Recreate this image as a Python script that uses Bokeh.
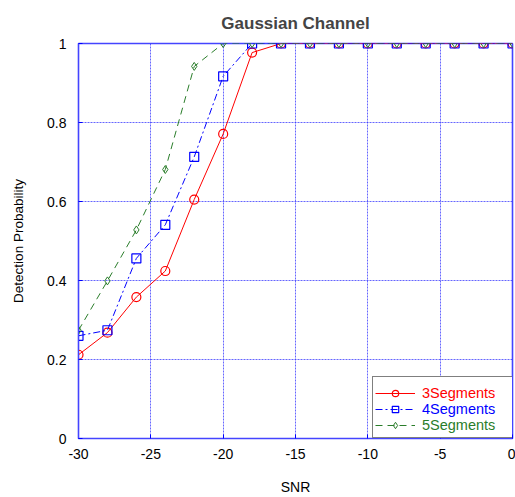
from bokeh.plotting import figure
from bokeh.models import Legend, LegendItem, FixedTicker, Range1d
from bokeh.embed import file_html
from bokeh.resources import INLINE

snr = [-30, -28, -26, -24, -22, -20, -18, -16, -14, -12, -10, -8, -6, -4, -2, 0]
seg3 = [0.212, 0.268, 0.358, 0.424, 0.605, 0.771, 0.977, 1, 1, 1, 1, 1, 1, 1, 1, 1]
seg4 = [0.260, 0.274, 0.456, 0.541, 0.713, 0.917, 1, 1, 1, 1, 1, 1, 1, 1, 1, 1]
seg5 = [0.274, 0.399, 0.528, 0.681, 0.942, 1, 1, 1, 1, 1, 1, 1, 1, 1, 1, 1]
x_ticks = [-30, -25, -20, -15, -10, -5, 0]
x_labels = ["-30", "-25", "-20", "-15", "-10", "-5", "0"]
y_ticks = [0, 0.2, 0.4, 0.6, 0.8, 1]
y_labels = ["0", "0.2", "0.4", "0.6", "0.8", "1"]
names = ["3Segments", "4Segments", "5Segments"]

FONT = "Liberation Sans"
RED = "#ff0000"
BLUE = "#0000ff"
GREEN = "#2a7d2a"

p = figure(width=515, height=497, output_backend="svg", toolbar_location=None,
           x_range=Range1d(-30, 0), y_range=Range1d(0, 1),
           min_border_left=78, min_border_right=3, min_border_top=42, min_border_bottom=59,
           title="Gaussian Channel")
p.title.align = "center"
p.title.text_font = FONT
p.title.text_font_size = "17px"
p.title.text_font_style = "bold"
p.title.standoff = 22

p.outline_line_color = "#4444ff"
p.outline_line_width = 1.6
p.background_fill_color = "white"
p.border_fill_color = "white"

for ax in (p.xaxis[0], p.yaxis[0]):
    ax.axis_line_color = "#4444ff"
    ax.major_tick_line_color = BLUE
    ax.major_tick_in = 4
    ax.major_tick_out = 0
    ax.minor_tick_line_color = None
    ax.major_label_text_font = FONT
    ax.major_label_text_font_size = "14px"
    ax.major_label_text_color = "black"
    ax.axis_label_text_font = FONT
    ax.axis_label_text_font_style = "normal"
    ax.axis_label_text_color = "black"

p.xaxis.axis_label_text_font_size = "14px"
p.yaxis.axis_label_text_font_size = "13.5px"
p.xaxis.ticker = FixedTicker(ticks=x_ticks)
p.yaxis.ticker = FixedTicker(ticks=y_ticks)
p.xaxis.major_label_overrides = {t: l for t, l in zip(x_ticks, x_labels)}
p.yaxis.major_label_overrides = {t: l for t, l in zip(y_ticks, y_labels)}
p.xaxis.axis_label = "SNR"
p.yaxis.axis_label = "Detection Probability"
p.xaxis.major_label_standoff = 10
p.yaxis.major_label_standoff = 12
p.xaxis.axis_label_standoff = 17
p.yaxis.axis_label_standoff = 18
p.xaxis.major_label_text_line_height = 0.6
p.xaxis.axis_label_text_line_height = 0.6

for g in (p.xgrid[0], p.ygrid[0]):
    g.grid_line_color = "#3333ff"
    g.grid_line_dash = "2 1"
    g.grid_line_alpha = 0.75

r3l = p.line(snr, seg3, line_color=RED, line_width=1)
r3m = p.scatter(snr, seg3, marker="circle", size=9, fill_color=None, line_color=RED, line_width=1.2)
r4l = p.line(snr, seg4, line_color=BLUE, line_width=1, line_dash="7 3 2 3")
r4m = p.scatter(snr, seg4, marker="square", size=9, fill_color=None, line_color=BLUE, line_width=1.2)
r5l = p.line(snr, seg5, line_color=GREEN, line_width=1, line_dash="7 5")
r5m = p.scatter(snr, seg5, marker="diamond", size=8, fill_color=None, line_color=GREEN, line_width=1)

groups = [[r3l, r3m], [r4l, r4m], [r5l, r5m]]
colors = [RED, BLUE, GREEN]
LX = 294
PAD = 6
GW = 40
LFS = "14.5px"

# invisible renderer: the framed box only
dummy = p.line([], [], line_alpha=0)
main = Legend(items=[LegendItem(label=" ", renderers=[dummy]) for _ in names],
              location=(LX, 0), border_line_color="black", border_line_width=1,
              background_fill_color="white", background_fill_alpha=1,
              label_text_font=FONT, label_text_font_size=LFS,
              glyph_width=43, glyph_height=16, label_height=16, label_width=78, spacing=0,
              padding=PAD, margin=0, label_standoff=7)
p.add_layout(main)

for i, (n, g, c) in enumerate(zip(names, groups, colors)):
    lg = Legend(items=[LegendItem(label=n, renderers=g)],
                location=(LX + 3, (2 - i) * 16 + 5), border_line_color=None,
                background_fill_alpha=0, label_text_color=c,
                label_text_font=FONT, label_text_font_size=LFS,
                glyph_width=GW, glyph_height=16, label_height=16, spacing=0,
                padding=PAD, margin=0, label_standoff=7)
    p.add_layout(lg)

open("out.html", "w").write(file_html(p, INLINE))
